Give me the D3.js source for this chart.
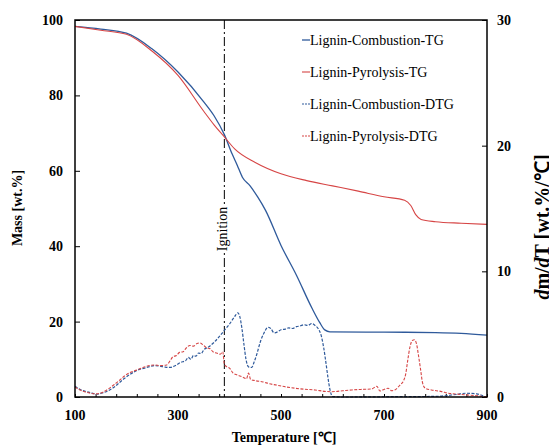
<!DOCTYPE html>
<html>
<head>
<meta charset="utf-8">
<script src="https://cdn.jsdelivr.net/npm/d3@7"></script>
<style>
  body { margin: 0; background: #fff; }
  svg { display: block; font-family: "Liberation Serif", "Times New Roman", serif; }
</style>
</head>
<body>
<svg width="549" height="445"></svg>
<script>
// Data

const ignitionT = 390

const combTG = [
  [100, 98.3], [150, 97.6], [200, 96.5], [250, 92.3], [300, 86.2], [350, 78.3],
  [370, 74.6], [390, 69.6], [405, 64.5], [415, 61.5], [425, 58.3], [440, 56], [455, 53],
  [470, 49.5], [500, 40.2], [530, 32.3], [560, 23.6], [575, 19.8], [585, 17.8],
  [595, 17.3], [700, 17.2], [800, 17.1], [850, 16.9], [900, 16.4],
]

const pyroTG = [
  [100, 98.3], [150, 97.3], [200, 96.2], [250, 91.7], [300, 85.3], [350, 75.8],
  [370, 72.2], [390, 69], [410, 65.8], [450, 62.2], [500, 59.2], [550, 57.4],
  [600, 56], [650, 54.6], [700, 53.1], [740, 52.2], [752, 50.8], [762, 48.3],
  [772, 47.1], [800, 46.5], [850, 46.1], [900, 45.8],
]

const combDTG = [
  [100, 0.85], [110, 0.6], [120, 0.45], [130, 0.35], [142, 0.22], [155, 0.35],
  [165, 0.5], [175, 0.75], [185, 1.1], [195, 1.45], [205, 1.75], [215, 2.0],
  [225, 2.2], [235, 2.3], [245, 2.42], [255, 2.5], [265, 2.45], [275, 2.38],
  [285, 2.35], [295, 2.5], [305, 2.75], [315, 2.9], [320, 3.15], [325, 3.0],
  [330, 3.3], [335, 3.25], [340, 3.5], [345, 3.45], [350, 3.75], [360, 4.0],
  [370, 4.35], [380, 4.8], [390, 5.3], [400, 5.8], [410, 6.4], [416, 6.7],
  [420, 6.4], [424, 5.5], [428, 4.2], [432, 3.0], [437, 2.4], [443, 2.35],
  [448, 2.8], [453, 3.4], [460, 4.4], [467, 5.1], [475, 5.55], [480, 5.45],
  [487, 5.1], [494, 5.2], [500, 5.35], [508, 5.4], [515, 5.5], [522, 5.45],
  [530, 5.6], [537, 5.65], [545, 5.75], [552, 5.7], [560, 5.85], [566, 5.7],
  [572, 5.45], [578, 4.9], [583, 3.9], [587, 2.8], [591, 1.6], [595, 0.6],
  [600, 0.05], [620, 0.0], [700, 0.02], [800, 0.05], [840, 0.2], [860, 0.3],
  [880, 0.25], [895, 0.05],
]

const pyroDTG = [
  [100, 0.8], [110, 0.55], [120, 0.4], [130, 0.3], [142, 0.25], [155, 0.4],
  [165, 0.65], [175, 0.95], [187, 1.35], [197, 1.7], [207, 1.95], [220, 2.15],
  [232, 2.35], [245, 2.5], [255, 2.55], [265, 2.5], [278, 2.55], [285, 2.9],
  [290, 3.2], [297, 3.3], [303, 3.55], [310, 3.6], [316, 3.9], [323, 4.1],
  [330, 4.05], [337, 4.25], [343, 4.3], [350, 4.1], [356, 3.9], [362, 3.85],
  [368, 3.6], [375, 3.5], [382, 3.4], [387, 3.6], [390, 2.6], [395, 2.4],
  [400, 2.3], [407, 1.9], [415, 1.75], [425, 1.6], [433, 1.45], [437, 1.9],
  [441, 1.4], [450, 1.3], [465, 1.2], [478, 1.05], [491, 0.95], [510, 0.8],
  [527, 0.7], [545, 0.62], [566, 0.56], [585, 0.45], [598, 0.42], [620, 0.5],
  [637, 0.56], [655, 0.6], [676, 0.64], [686, 0.85], [692, 0.48], [700, 0.6],
  [708, 0.7], [715, 0.5], [721, 0.56], [731, 0.95], [738, 1.3], [742, 1.8],
  [746, 2.9], [750, 3.9], [755, 4.5], [759, 4.55], [763, 4.25], [767, 3.3],
  [771, 2.2], [775, 1.1], [780, 0.7], [792, 0.56], [810, 0.45], [825, 0.3],
  [845, 0.22], [863, 0.16], [880, 0.1], [900, 0.0],
]

const xTickLabels = [100, 300, 500, 700, 900]
const leftTicks = [0, 20, 40, 60, 80, 100]
const rightTicks = [0, 10, 20, 30]

const legendNames = [
  'Lignin-Combustion-TG',
  'Lignin-Pyrolysis-TG',
  'Lignin-Combustion-DTG',
  'Lignin-Pyrolysis-DTG',
]

// Layout

const blue = '#2f5a9b'
const red = '#d64545'
const plotLeft = 75, plotRight = 487, plotTop = 20, plotBottom = 397

const svg = d3.select('svg')

const x = d3.scaleLinear().domain([100, 900]).range([plotLeft, plotRight])
const yMass = d3.scaleLinear().domain([0, 100]).range([plotBottom, plotTop])
const yRate = d3.scaleLinear().domain([0, 30]).range([plotBottom, plotTop])

const massLine = d3.line().x(d => x(d[0])).y(d => yMass(d[1])).curve(d3.curveMonotoneX)
const rateLine = d3.line().x(d => x(d[0])).y(d => yRate(d[1])).curve(d3.curveMonotoneX)

// Axes (ticks drawn inside the frame)

svg.append('g')
    .attr('transform', `translate(0,${plotBottom})`)
    .call(d3.axisBottom(x).tickValues(d3.range(100, 901, 40)).tickSize(-3).tickFormat(''))
    .call(g => g.select('.domain').remove())
    .selectAll('line').attr('stroke', '#000')

svg.append('g')
    .attr('transform', `translate(${plotLeft},0)`)
    .call(d3.axisLeft(yMass).tickValues(leftTicks).tickSize(-5).tickFormat(''))
    .call(g => g.select('.domain').remove())
    .selectAll('line').attr('stroke', '#000')

svg.append('g')
    .attr('transform', `translate(${plotRight},0)`)
    .call(d3.axisRight(yRate).tickValues(rightTicks).tickSize(-5).tickFormat(''))
    .call(g => g.select('.domain').remove())
    .selectAll('line').attr('stroke', '#000')

const labelStyle = sel => sel
    .attr('font-size', 14)
    .attr('font-weight', 'bold')
    .attr('fill', '#000')

svg.append('g').selectAll('text').data(xTickLabels).join('text')
    .call(labelStyle)
    .attr('x', d => x(d))
    .attr('y', 420)
    .attr('text-anchor', 'middle')
    .text(d => d)

svg.append('g').selectAll('text').data(leftTicks).join('text')
    .call(labelStyle)
    .attr('x', 63)
    .attr('y', d => yMass(d) + 5)
    .attr('text-anchor', 'end')
    .text(d => d)

svg.append('g').selectAll('text').data(rightTicks).join('text')
    .call(labelStyle)
    .attr('x', 497)
    .attr('y', d => yRate(d) + 5)
    .attr('text-anchor', 'start')
    .text(d => d)

// Axis titles

svg.append('text')
    .call(labelStyle)
    .attr('x', 284)
    .attr('y', 442)
    .attr('text-anchor', 'middle')
    .text('Temperature [℃]')

svg.append('text')
    .call(labelStyle)
    .attr('transform', 'translate(22,208) rotate(-90)')
    .attr('text-anchor', 'middle')
    .text('Mass [wt.%]')

// the right title is larger and runs off the right edge, as in the source
const rt = svg.append('text')
    .call(labelStyle)
    .attr('font-size', 20)
    .attr('transform', 'translate(549,227) rotate(-90)')
    .attr('text-anchor', 'middle')
rt.append('tspan').attr('font-style', 'italic').text('d')
rt.append('tspan').text('m/')
rt.append('tspan').attr('font-style', 'italic').text('d')
rt.append('tspan').text('T [wt.%/℃]')

// Series

const series = [
  {data: combTG, line: massLine, color: blue, dash: null, width: 1.3},
  {data: pyroTG, line: massLine, color: red, dash: null, width: 1.1},
  {data: combDTG, line: rateLine, color: blue, dash: '3 1.5', width: 1.2},
  {data: pyroDTG, line: rateLine, color: red, dash: '3 1.5', width: 1.1},
]

// Ignition marker

svg.append('line')
    .attr('x1', x(ignitionT)).attr('x2', x(ignitionT))
    .attr('y1', plotTop).attr('y2', plotBottom)
    .attr('stroke', '#000')
    .attr('stroke-width', 1)
    .attr('stroke-dasharray', '9 3 2 3')

svg.append('rect')
    .attr('x', x(ignitionT) - 8).attr('y', 205)
    .attr('width', 13).attr('height', 48)
    .attr('fill', '#fff')

svg.append('text')
    .attr('transform', `translate(${x(ignitionT) + 3},229) rotate(-90)`)
    .attr('text-anchor', 'middle')
    .attr('font-size', 14)
    .attr('fill', '#000')
    .text('Ignition')

svg.append('g').selectAll('path').data(series).join('path')
    .attr('d', d => d.line(d.data))
    .attr('fill', 'none')
    .attr('stroke', d => d.color)
    .attr('stroke-width', d => d.width)
    .attr('stroke-dasharray', d => d.dash)

// Frame

svg.append('rect')
    .attr('x', plotLeft).attr('y', plotTop)
    .attr('width', plotRight - plotLeft).attr('height', plotBottom - plotTop)
    .attr('fill', 'none')
    .attr('stroke', '#000')
    .attr('stroke-width', 1.5)

// Legend

const legend = svg.append('g').selectAll('g').data(series).join('g')
    .attr('transform', (d, i) => `translate(302,${40 + i * 32})`)

legend.append('line')
    .attr('x1', 0).attr('x2', 8)
    .attr('stroke', d => d.color)
    .attr('stroke-width', d => d.width)
    .attr('stroke-dasharray', d => d.dash ? '2 1' : null)

legend.append('text')
    .attr('x', 8)
    .attr('y', 5)
    .attr('font-size', 14)
    .attr('fill', '#000')
    .text((d, i) => legendNames[i])
</script>
</body>
</html>
